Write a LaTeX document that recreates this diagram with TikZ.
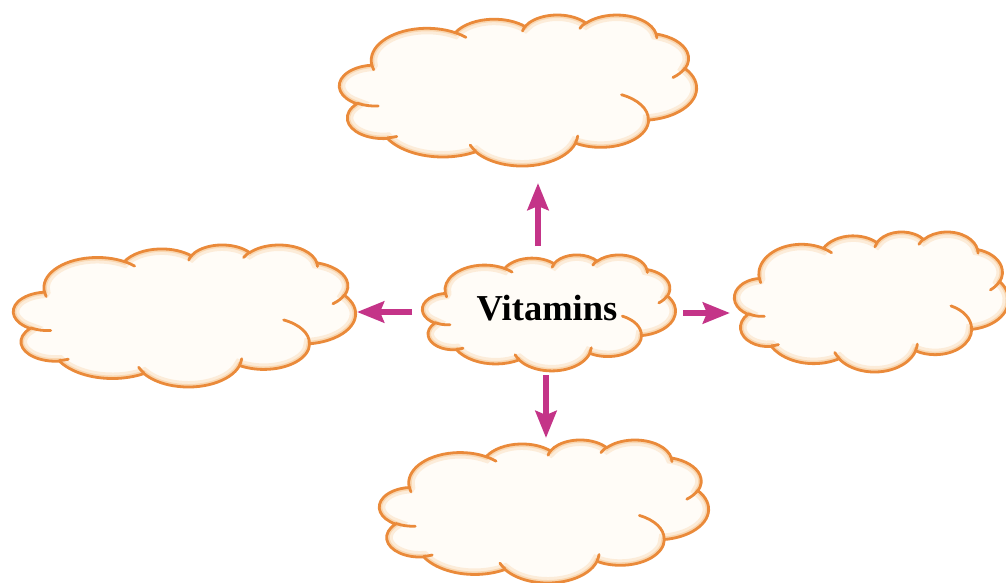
\documentclass[tikz,border=0pt]{standalone}
\usepackage{fontspec}
\setmainfont{Liberation Serif}
\usetikzlibrary{arrows.meta}
\definecolor{cloudedge}{RGB}{234,138,58}
\definecolor{cloudglow}{RGB}{246,190,130}
\definecolor{cloudfill}{RGB}{255,252,247}
\definecolor{arrowcol}{RGB}{196,52,136}

% convert a DrawingML arc (geometric angles) to TikZ parametric angles
\newcommand\prepcloudarc[5]{%
  \pgfmathsetmacro\tmpA{atan2((#2)*sin(#4),(#3)*cos(#4))}%
  \pgfmathsetmacro\tmpB{atan2((#2)*sin((#4)+(#5)),(#3)*cos((#4)+(#5)))}%
  \pgfmathsetmacro\tmpD{mod(\tmpB-\tmpA+720,360)}%
  \expandafter\xdef\csname cldS#1\endcsname{\tmpA}%
  \expandafter\xdef\csname cldD#1\endcsname{\tmpD}%
}
% outline arcs
\prepcloudarc{a}{67.53}{91.90}{-190.4875}{123.7805}
\prepcloudarc{b}{53.33}{72.67}{-144.1024}{89.9452}
\prepcloudarc{c}{43.65}{59.45}{-145.8079}{99.7230}
\prepcloudarc{d}{48.57}{65.95}{-130.9861}{117.2417}
\prepcloudarc{e}{53.33}{72.73}{-78.7089}{109.0269}
\prepcloudarc{f}{67.75}{92.20}{-46.2673}{130.2690}
\prepcloudarc{g}{57.85}{78.67}{0.6250}{114.0333}
\prepcloudarc{h}{67.52}{92.15}{22.4516}{115.1726}
\prepcloudarc{i}{77.20}{105.43}{66.2426}{75.7110}
\prepcloudarc{j}{43.60}{59.18}{-274.9421}{146.7356}
\prepcloudarc{k}{43.45}{59.45}{-246.8285}{152.5189}
% inner arcs
\prepcloudarc{l}{43.45}{59.45}{86.7420}{26.4296}
\prepcloudarc{m}{43.60}{59.18}{73.6105}{11.4492}
\prepcloudarc{n}{67.52}{92.15}{137.6242}{14.0811}
\prepcloudarc{o}{67.52}{92.15}{6.4533}{15.9984}
\prepcloudarc{p}{57.85}{78.67}{-70.2924}{70.9174}
\prepcloudarc{q}{53.33}{72.73}{30.3180}{27.7515}
\prepcloudarc{r}{48.57}{65.95}{-13.7443}{14.8589}
\prepcloudarc{s}{48.57}{65.95}{-149.1815}{18.1954}
\prepcloudarc{t}{43.65}{59.45}{-163.4943}{17.6864}
\prepcloudarc{u}{67.53}{91.90}{-66.7070}{12.3194}
\prepcloudarc{v}{67.53}{91.90}{157.6544}{11.8640}

\def\cloudouter{(39.00,143.70)
  arc[x radius=67.53,y radius=91.90,start angle=\cldSa,delta angle=\cldDa]
  arc[x radius=53.33,y radius=72.67,start angle=\cldSb,delta angle=\cldDb]
  arc[x radius=43.65,y radius=59.45,start angle=\cldSc,delta angle=\cldDc]
  arc[x radius=48.57,y radius=65.95,start angle=\cldSd,delta angle=\cldDd]
  arc[x radius=53.33,y radius=72.73,start angle=\cldSe,delta angle=\cldDe]
  arc[x radius=67.75,y radius=92.20,start angle=\cldSf,delta angle=\cldDf]
  arc[x radius=57.85,y radius=78.67,start angle=\cldSg,delta angle=\cldDg]
  arc[x radius=67.52,y radius=92.15,start angle=\cldSh,delta angle=\cldDh]
  arc[x radius=77.20,y radius=105.43,start angle=\cldSi,delta angle=\cldDi]
  arc[x radius=43.60,y radius=59.18,start angle=\cldSj,delta angle=\cldDj]
  arc[x radius=43.45,y radius=59.45,start angle=\cldSk,delta angle=\cldDk]
  -- cycle}
\def\cloudinner{(46.93,261.77) arc[x radius=43.45,y radius=59.45,start angle=\cldSl,delta angle=\cldDl]
  (69.28,348.99) arc[x radius=43.60,y radius=59.18,start angle=\cldSm,delta angle=\cldDm]
  (164.78,390.90) arc[x radius=67.52,y radius=92.15,start angle=\cldSn,delta angle=\cldDn]
  (288.27,347.51) arc[x radius=67.52,y radius=92.15,start angle=\cldSo,delta angle=\cldDo]
  (341.29,229.54) arc[x radius=57.85,y radius=78.67,start angle=\cldSp,delta angle=\cldDp]
  (417.98,153.54) arc[x radius=53.33,y radius=72.73,start angle=\cldSq,delta angle=\cldDq]
  (383.24,54.26) arc[x radius=48.57,y radius=65.95,start angle=\cldSr,delta angle=\cldDr]
  (290.78,39.52) arc[x radius=48.57,y radius=65.95,start angle=\cldSs,delta angle=\cldDs]
  (221.41,47.20) arc[x radius=43.65,y radius=59.45,start angle=\cldSt,delta angle=\cldDt]
  (140.00,51.92) arc[x radius=67.53,y radius=91.90,start angle=\cldSu,delta angle=\cldDu]
  (41.27,157.89) arc[x radius=67.53,y radius=91.90,start angle=\cldSv,delta angle=\cldDv]}

% #1 left, #2 top, #3 width, #4 height (px)
\newcommand\drawcloud[4]{%
  \pgfmathsetmacro\cldsx{(#3)/432}%
  \pgfmathsetmacro\cldsy{(#4)/432}%
  \begin{scope}[shift={(#1,#2)}, x=\cldsx pt, y=-\cldsy pt]
    \fill[cloudfill] \cloudouter;
    \begin{scope}
      \clip \cloudouter;
      \draw[cloudglow, line width=12pt, opacity=0.25] \cloudouter;
      \draw[cloudglow, line width=6pt, opacity=0.45] \cloudouter;
    \end{scope}
    \draw[cloudline] \cloudouter;
    \draw[cloudline, line cap=round] \cloudinner;
  \end{scope}}

\tikzset{
  cloudline/.style={cloudedge, line width=2.8pt, line join=round},
  pinkarrow/.style={arrowcol, line width=6.2pt,
    -{Stealth[length=27pt, width=21pt, inset=4pt]}},
  title/.style={font=\bfseries\fontsize{36.5}{40}\selectfont, inner sep=0pt}
}

\begin{document}
\begin{tikzpicture}[x=1pt, y=-1pt]
  \useasboundingbox (0,0) rectangle (1006,582);
  \fill[white] (0,0) rectangle (1006,582);

  \drawcloud{339.5}{14.5}{357}{151}   % top
  \drawcloud{13.5}{244.5}{342}{142}   % left
  \drawcloud{422.5}{254.5}{253}{116}  % centre
  \drawcloud{734.5}{231.5}{274}{140}  % right
  \drawcloud{379.5}{439.5}{329}{143}  % bottom

  \node[title, anchor=base] (vit) at (547,320) {Vitamins};

  \coordinate (upS) at (538,246);   \coordinate (upE) at (538,183);
  \coordinate (leftS) at (412,312); \coordinate (leftE) at (357,312);
  \coordinate (rightS) at (683,313);\coordinate (rightE) at (730,313);
  \coordinate (downS) at (546,375); \coordinate (downE) at (546,438);

  \draw[pinkarrow] (upS) -- (upE);
  \draw[pinkarrow] (leftS) -- (leftE);
  \draw[pinkarrow] (rightS) -- (rightE);
  \draw[pinkarrow] (downS) -- (downE);
\end{tikzpicture}
\end{document}
